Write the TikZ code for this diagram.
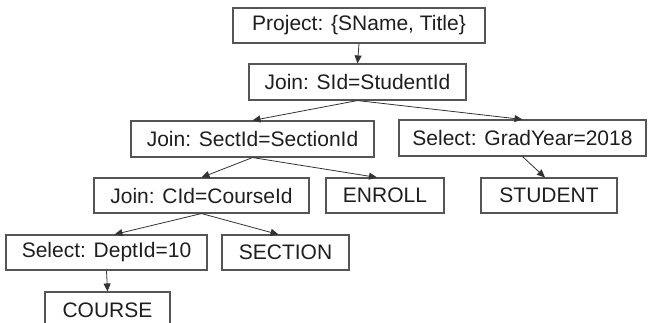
\documentclass[tikz,border=0pt]{standalone}
\usepackage{fontspec}
\setmainfont{Liberation Sans}
\usepackage{xcolor}
\usepackage{tikz}
\usetikzlibrary{arrows.meta}

\definecolor{boxline}{HTML}{555555}
\definecolor{arrline}{HTML}{333333}
\definecolor{optext}{HTML}{1E1E1E}

\begin{document}
\begin{tikzpicture}[
  x=1pt, y=-1pt,
  font=\fontsize{21}{25}\selectfont,
  op/.style={draw=boxline, line width=1.1pt, inner sep=0pt, minimum height=35pt, text=optext, anchor=center},
  arrow/.style={-{Triangle[length=8pt,width=7pt]}, draw=arrline, line width=0.8pt}
]
\useasboundingbox (0,0) rectangle (650,322);

\node[op, minimum width=252pt] (proj) at (359,25.5) {Project: \{SName, Title\}};
\node[op, minimum width=217pt, minimum height=36pt] (joinsid) at (357.5,82) {Join: SId=StudentId};
\node[op, minimum width=243pt, minimum height=36pt] (joinsect) at (252.5,139) {Join: SectId=SectionId};
\node[op, minimum width=247pt, minimum height=36pt] (selgrad) at (522.5,138) {Select: GradYear=2018};
\node[op, minimum width=215pt] (joincid) at (201.5,195.5) {Join: CId=CourseId};
\node[op, minimum width=118pt] (enroll) at (385,195.5) {ENROLL};
\node[op, minimum width=136pt] (student) at (549,195.5) {STUDENT};
\node[op, minimum width=201pt] (seldept) at (106.5,252.5) {Select: DeptId=10};
\node[op, minimum width=127pt] (section) at (285.5,252.5) {SECTION};
\node[op, minimum width=125pt, minimum height=36pt] (course) at (107.5,310) {COURSE};

\draw[arrow] (proj.south) -- (joinsid.north);
\draw[arrow] (joinsid.south) -- (joinsect.north);
\draw[arrow] (joinsid.south) -- (selgrad.north);
\draw[arrow] (joinsect.south) -- (joincid.north);
\draw[arrow] (joinsect.south) -- ([xshift=-8pt]enroll.north);
\draw[arrow] (selgrad.south) -- ([xshift=-4pt]student.north);
\draw[arrow] (joincid.south) -- ([xshift=8pt]seldept.north);
\draw[arrow] (joincid.south) -- ([xshift=-7pt]section.north);
\draw[arrow] (seldept.south) -- (course.north);
\end{tikzpicture}
\end{document}
